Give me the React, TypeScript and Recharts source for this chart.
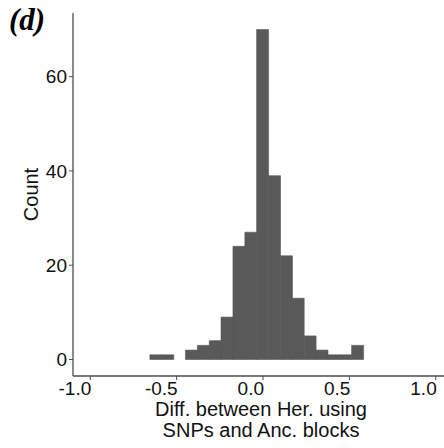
import React from "react";
import { BarChart, Bar, XAxis, YAxis } from "recharts";

const binMids = [-0.621, -0.552, -0.483, -0.415, -0.346, -0.277, -0.209, -0.14, -0.071, -0.003, 0.066, 0.135, 0.203, 0.272, 0.341, 0.409, 0.478, 0.547];
const counts = [1, 1, 0, 2, 3, 4, 9, 24, 27, 70, 39, 22, 13, 5, 2, 1, 1, 3];
const xTicks = [-1, -0.5, 0, 0.5, 1];
const xTickLabels = ["-1.0", "-0.5", "0.0", "0.5", "1.0"];
const yTicks = [0, 20, 40, 60];
const xTitleLines = ["Diff. between Her. using", "SNPs and Anc. blocks"];
const yTitle = "Count";
const panelTag = "(d)";

const data = binMids.map((m, i) => ({ mid: m, count: counts[i] }));

const FONT = "'Liberation Sans', Arial, Helvetica, sans-serif";
const AXIS = "#4d4d4d";

const XTick = (props: any) => {
  const { x, y, payload } = props;
  const idx = xTicks.indexOf(payload.value);
  const label = idx >= 0 ? xTickLabels[idx] : String(payload.value);
  return (
    <text x={x + 1} y={y + 13} textAnchor="end" fontSize={19} fontFamily={FONT} fill="#111">
      {label}
    </text>
  );
};

const XTitle = (props: any) => {
  const vb = props.viewBox || {};
  const cx = vb.x + vb.width / 2 - 2;
  return (
    <g>
      <text x={cx} y={415.5} textAnchor="middle" fontSize={20} fontFamily={FONT} fill="#111">
        {xTitleLines[0]}
      </text>
      <text x={cx} y={437} textAnchor="middle" fontSize={20} fontFamily={FONT} fill="#111">
        {xTitleLines[1]}
      </text>
    </g>
  );
};

const YTitle = (props: any) => {
  const vb = props.viewBox || {};
  const cy = vb.y + vb.height / 2;
  return (
    <text
      x={38}
      y={cy}
      transform={`rotate(-90, 38, ${cy})`}
      textAnchor="middle"
      fontSize={20}
      fontFamily={FONT}
      fill="#111"
    >
      {yTitle}
    </text>
  );
};

export default function App() {
  return (
    <div style={{ position: "absolute", left: 0, top: 0, width: 444, height: 448, overflow: "hidden", background: "#fff" }}>
      <BarChart
        width={460}
        height={448}
        data={data}
        margin={{ top: 13, right: 7, bottom: 0, left: 0 }}
        barCategoryGap={0}
        barGap={0}
      >
        <XAxis
          dataKey="mid"
          type="number"
          domain={[-1.1, 1.1]}
          ticks={xTicks}
          allowDataOverflow
          tick={<XTick />}
          tickSize={4}
          tickMargin={2}
          axisLine={{ stroke: AXIS, strokeWidth: 1.3 }}
          tickLine={{ stroke: AXIS, strokeWidth: 1 }}
          height={72}
          label={<XTitle />}
        />
        <YAxis
          type="number"
          domain={[-3.5, 73.5]}
          ticks={yTicks}
          allowDataOverflow
          width={73}
          tickSize={4}
          tickMargin={2}
          tick={{ fontSize: 19, fontFamily: FONT, fill: "#111" }}
          axisLine={{ stroke: AXIS, strokeWidth: 1.3 }}
          tickLine={{ stroke: AXIS, strokeWidth: 1 }}
          label={<YTitle />}
        />
        <Bar dataKey="count" fill="#595959" stroke="#595959" strokeWidth={0.6} isAnimationActive={false} />
      </BarChart>
      <svg width={80} height={45} style={{ position: "absolute", left: 0, top: 0 }}>
        <text x={9} y={30} fontSize={31} fontWeight="bold" fontStyle="italic" fontFamily="'Liberation Serif', 'Times New Roman', serif" fill="#000">
          {panelTag}
        </text>
      </svg>
    </div>
  );
}
